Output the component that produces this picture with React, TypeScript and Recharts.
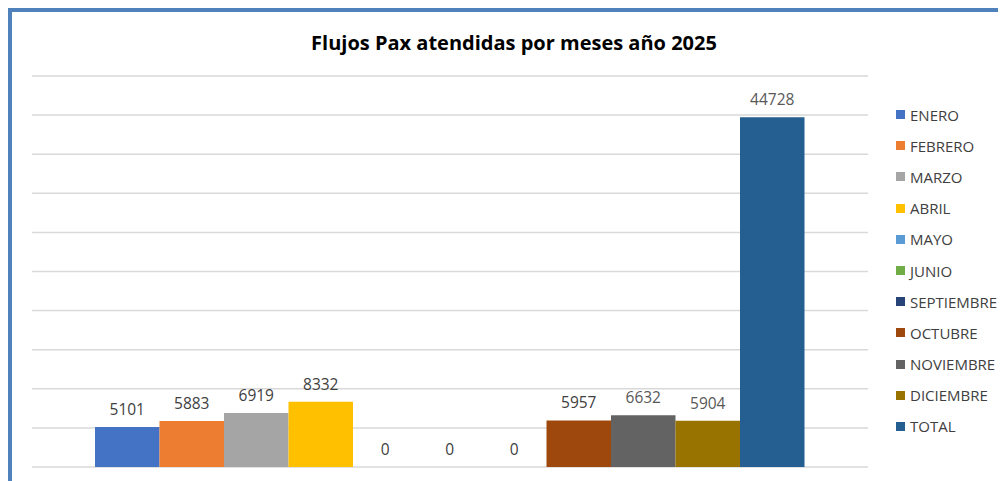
import React from 'react';
import { BarChart, Bar, XAxis, YAxis, CartesianGrid, LabelList } from 'recharts';

// months shown in the chart (no JULIO / AGOSTO in the source)
const months = ['ENERO', 'FEBRERO', 'MARZO', 'ABRIL', 'MAYO', 'JUNIO', 'SEPTIEMBRE', 'OCTUBRE', 'NOVIEMBRE', 'DICIEMBRE', 'TOTAL'];
const paxValues = [5101, 5883, 6919, 8332, 0, 0, 0, 5957, 6632, 5904, 44728];
const barColors = ['#4472C4', '#ED7D31', '#A5A5A5', '#FFC000', '#5B9BD5', '#70AD47', '#264478', '#9E480E', '#636363', '#997300', '#255E91'];
const labelColors = ['#404040', '#404040', '#404040', '#404040', '#404040', '#404040', '#404040', '#404040', '#595959', '#595959', '#595959'];
const yTicks = [0, 5000, 10000, 15000, 20000, 25000, 30000, 35000, 40000, 45000, 50000];

const row: Record<string, any> = { name: '2025' };
months.forEach((m, i) => { row[m] = paxValues[i]; });
const data = [row];

const font = '"Open Sans", "Liberation Sans", sans-serif';

const App: React.FC = () => {
  return (
    <div style={{ position: 'relative', width: 998, height: 473, borderTop: '4px solid #4F81BD', borderLeft: '4px solid #4F81BD', background: '#fff', fontFamily: font }}>
      <div style={{ position: 'absolute', left: 0, top: 17, width: 1004, textAlign: 'center', fontWeight: 700, fontSize: 20, color: '#000' }}>
        Flujos Pax atendidas por meses año 2025
      </div>

      <div style={{ position: 'absolute', left: 0, top: 0 }}>
        <BarChart width={994} height={469} data={data} margin={{ top: 64, right: 138, bottom: 14, left: 20 }} barSize={64.5} barGap={0}>
          <CartesianGrid horizontal vertical={false} stroke="#d9d9d9" strokeWidth={1.5} />
          <XAxis dataKey="name" hide />
          <YAxis hide domain={[0, 50000]} ticks={yTicks} />
          {months.map((m, i) => (
            <Bar key={m} dataKey={m} fill={barColors[i]} minPointSize={0.05} isAnimationActive={false}>
              <LabelList dataKey={m} position="top" offset={12} fill={labelColors[i]} fontSize={15.5} fontFamily={font} />
            </Bar>
          ))}
        </BarChart>
      </div>

      {/* legend */}
      <div style={{ position: 'absolute', left: 884, top: 87 }}>
        {months.map((m, i) => (
          <div key={m} style={{ display: 'flex', alignItems: 'center', height: 31.2, fontSize: 15, color: '#404040' }}>
            <span style={{ display: 'inline-block', width: 9, height: 9, background: barColors[i], marginRight: 5 }} />
            {m}
          </div>
        ))}
      </div>
    </div>
  );
};

export default App;
